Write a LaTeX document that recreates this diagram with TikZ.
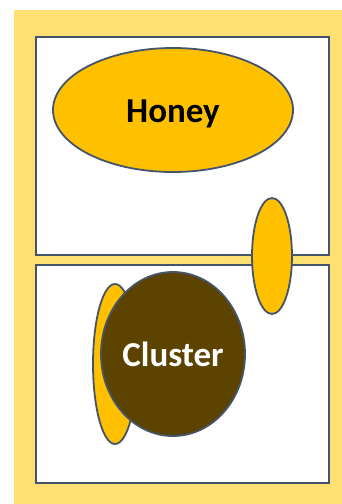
\documentclass[tikz,border=0pt]{standalone}
\usepackage{fontspec}
\setmainfont{Carlito}
\definecolor{panel}{HTML}{FFDF72}
\definecolor{gold}{HTML}{FFC000}
\definecolor{brood}{HTML}{5C4300}
\definecolor{rim}{HTML}{44546A}
\tikzset{
  frame/.style={draw=rim, line width=1.8pt, fill=white},
  blob/.style={draw=rim, line width=1.8pt, ellipse, inner sep=0pt},
}
\usetikzlibrary{shapes.geometric}
\begin{document}
\begin{tikzpicture}[x=1pt, y=-1pt]
  \useasboundingbox (0,0) rectangle (342,504);
  \fill[panel] (14,10) rectangle (342,504);
  % two frames
  \node[frame, minimum width=293pt, minimum height=218pt, inner sep=0pt] (top) at (182.5,146) {};
  \node[frame, minimum width=293pt, minimum height=218pt, inner sep=0pt] (bottom) at (182.5,374) {};
  % honey store
  \node[blob, fill=gold, minimum width=240pt, minimum height=124pt] (honey) at (173,110) {};
  \node (honeytext) at (173,114) {\fontsize{35}{40}\selectfont\bfseries Honey};
  % bee moving between frames
  \node[blob, fill=gold, minimum width=40pt, minimum height=116pt] (bee) at (272,256) {};
  % pollen crescent behind the cluster
  \node[blob, fill=gold, minimum width=44pt, minimum height=160pt] (pollen) at (115,364) {};
  % the cluster
  \node[blob, fill=brood, minimum width=144pt, minimum height=164pt] (cluster) at (173,354)
    {\color{white}\fontsize{35}{40}\selectfont\bfseries Cluster};
\end{tikzpicture}
\end{document}
